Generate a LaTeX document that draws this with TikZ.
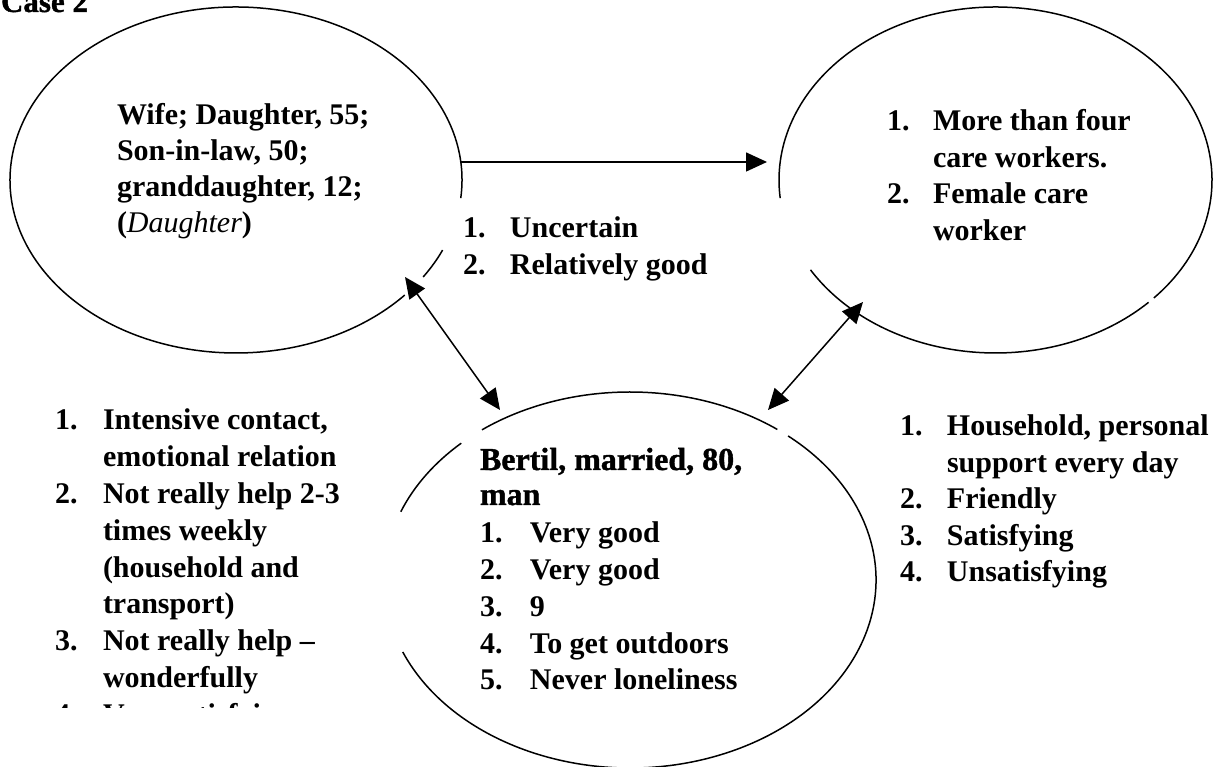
\documentclass[tikz,border=0pt]{standalone}
\usepackage{fontspec}
\setmainfont{Liberation Serif}
\newfontfamily\heavyfont{Liberation Serif Bold}[FakeBold=1.2]
\usetikzlibrary{shapes.geometric,arrows.meta,calc}
\begin{document}
\begin{tikzpicture}[x=1pt,y=1pt,
  oval/.style={ellipse, inner sep=0pt, outer sep=0pt},
  line/.style={line width=1.5pt},
  arr/.style={line width=1.5pt, -{Triangle[length=21pt,width=19pt]}},
  darr/.style={line width=1.5pt, {Triangle[length=21pt,width=19pt]}-{Triangle[length=21pt,width=19pt]}},
  txt/.style={anchor=base west, inner sep=0pt, outer sep=0pt, font=\bfseries\fontsize{30}{36.5}\selectfont},
]
\useasboundingbox (0,0) rectangle (1213,767);

% ellipse nodes (outlines drawn as arcs with the gaps of the original)
\node[oval, minimum width=452pt, minimum height=346pt] (L) at (236,587) {};
\node[oval, minimum width=433pt, minimum height=346pt] (R) at (995.5,587) {};
\node[oval, minimum width=492pt, minimum height=376pt] (B) at (630,187) {};

% left ellipse
\draw[line] ($(L.center)+(-6:226 and 173)$) arc[start angle=-6, end angle=318.3, x radius=226, y radius=173];
\draw[line] ($(L.center)+(-34.1:226 and 173)$) arc[start angle=-34.1, end angle=-23.9, x radius=226, y radius=173];
% right ellipse
\draw[line] ($(R.center)+(211.3:216.5 and 173)$) arc[start angle=211.3, end angle=315, x radius=216.5, y radius=173];
\draw[line] ($(R.center)+(317:216.5 and 173)$) arc[start angle=317, end angle=546, x radius=216.5, y radius=173];
% bottom ellipse
\draw[line] ($(B.center)+(53.2:246 and 188)$) arc[start angle=53.2, end angle=127, x radius=246, y radius=188];
\draw[line] ($(B.center)+(133.3:246 and 188)$) arc[start angle=133.3, end angle=158.7, x radius=246, y radius=188];
\draw[line] ($(B.center)+(202.5:246 and 188)$) arc[start angle=202.5, end angle=410, x radius=246, y radius=188];

% connectors
\draw[arr] ($(L.center)+(224,18)$) -- ($(R.center)+(-228.5,18)$);
\draw[darr] ($(L.center)+(169,-97)$) -- ($(B.center)+(-130,170)$);
\draw[darr] ($(R.center)+(-132.5,-122)$) -- ($(B.center)+(138,170)$);

% texts
\node[txt, font=\fontsize{31}{36.5}\selectfont] (case) at (1,755) {\heavyfont\mdseries Case 2};

\node[txt, font=\bfseries\fontsize{30}{35.7}\selectfont] (Ltxt) at (117,642)
  {\begin{tabular}[t]{@{}l@{}}Wife; Daughter, 55;\\Son-in-law, 50;\\granddaughter, 12;\\({\mdseries\itshape Daughter})\end{tabular}};

\node[txt] (Rtxt) at (887,636)
  {\begin{tabular}[t]{@{}p{46pt}@{}l@{}}1.&More than four\\&care workers.\\2.&Female care\\&worker\end{tabular}};

\node[txt, font=\bfseries\fontsize{30}{37}\selectfont] (mid) at (463,529)
  {\begin{tabular}[t]{@{}p{47pt}@{}l@{}}1.&Uncertain\\2.&Relatively good\end{tabular}};

\begin{scope}
\clip (0,59) rectangle (400,767);
\node[txt, font=\bfseries\fontsize{30}{36.8}\selectfont] (Llist) at (55,337)
  {\begin{tabular}[t]{@{}p{48pt}@{}l@{}}1.&Intensive contact,\\&emotional relation\\2.&Not really help 2-3\\&times weekly\\&(household and\\&transport)\\3.&Not really help –\\&wonderfully\\4.&Very satisfying\end{tabular}};
\end{scope}

\node[txt] (Rlist) at (900,331)
  {\begin{tabular}[t]{@{}p{47pt}@{}l@{}}1.&Household, personal\\&support every day\\2.&Friendly\\3.&Satisfying\\4.&Unsatisfying\end{tabular}};

\node[txt, font=\fontsize{32}{35}\selectfont] (Bname) at (480,297)
  {\begin{tabular}[t]{@{}l@{}}\heavyfont\mdseries Bertil, married, 80,\\\heavyfont\mdseries man\end{tabular}};

\node[txt, font=\bfseries\fontsize{30}{36.75}\selectfont] (Blist) at (480,224)
  {\begin{tabular}[t]{@{}p{50pt}@{}l@{}}1.&Very good\\2.&Very good\\3.&9\\4.&To get outdoors\\5.&Never loneliness\end{tabular}};
\end{tikzpicture}
\end{document}
